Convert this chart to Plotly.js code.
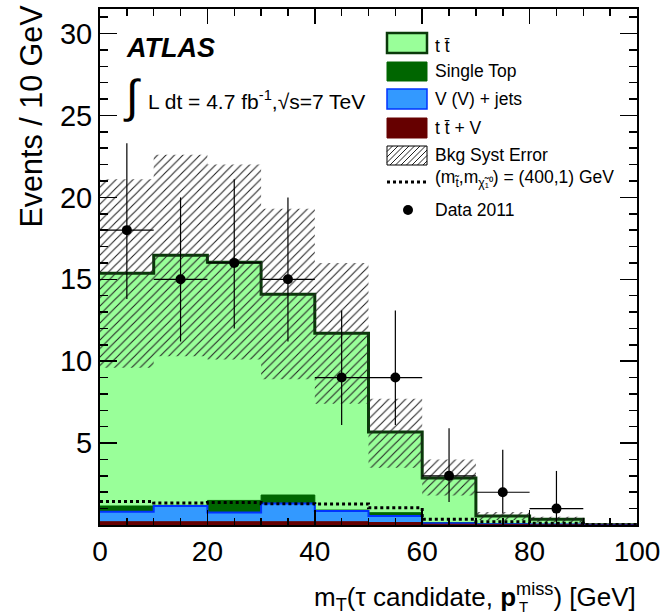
<!DOCTYPE html>
<html>
<head>
<meta charset="utf-8">
<script src="https://cdn.plot.ly/plotly-3.0.1.min.js"></script>
<style>html,body{margin:0;padding:0;background:#fff;}#chart{width:663px;height:616px;}</style>
</head>
<body>
<div id="chart"></div>
<script>
// ---- data ----
const binEdges = [0,10,20,30,40,50,60,70,80,90,100];
const ttbar     = [14.21,15.26,14.54,12.26,10.80,4.92,2.72,0.48,0.31,0.02];
const singleTop = [0.35,0.04,0.73,0.51,0.06,0.20,0.05,0.02,0.01,0.00];
const vjets     = [0.61,0.96,0.57,1.12,0.65,0.40,0.05,0.03,0.02,0.00];
const ttV       = [0.20,0.20,0.20,0.20,0.20,0.15,0.05,0.02,0.01,0.00];
const signal    = [1.44,1.34,1.38,1.30,1.28,1.05,0.35,0.20,0.10,0.03];
const systUp    = [21.1,22.6,22.0,19.3,16.0,7.7,4.0,0.8,0.5,0.03];
const systDown  = [9.6,10.3,10.1,8.9,7.4,3.5,1.8,0.3,0.15,0.01];
const dataX     = [5,15,25,35,45,55,65,75,85];
const dataY     = [18,15,16,15,9,9,3,2,1];
const dataErrUp   = [5.3,5.0,5.1,5.0,4.1,4.1,2.9,2.6,2.3];
const dataErrDown = [4.2,3.8,4.0,3.8,2.9,2.9,1.6,1.3,0.8];
const xTicks = [0,20,40,60,80,100];
const yTicks = [5,10,15,20,25,30];

// ---- helpers ----
function addArr(a,b){return a.map((v,i)=>v+b[i]);}
function stepY(v){return v.concat([v[v.length-1]]);}
const cTTV = ttV.slice();
const cV = addArr(cTTV, vjets);
const cST = addArr(cV, singleTop);
const cTT = addArr(cST, ttbar);

function stackTrace(vals, fill, lineColor, lw){
  return {type:'scatter', mode:'lines', x:binEdges, y:stepY(vals),
    line:{shape:'hv', color:lineColor, width:lw}, fill:'tozeroy', fillcolor:fill,
    hoverinfo:'skip', showlegend:false};
}
// hatched band polygon
const bx=[], by=[];
for(let i=0;i<systUp.length;i++){bx.push(binEdges[i],binEdges[i+1]);by.push(systUp[i],systUp[i]);}
for(let i=systDown.length-1;i>=0;i--){bx.push(binEdges[i+1],binEdges[i]);by.push(systDown[i],systDown[i]);}

const traces = [
  stackTrace(cTT, '#99ff99', '#0a3a0a', 3),
  stackTrace(cST, '#006600', '#006600', 1),
  stackTrace(cV, '#3399ff', '#0033ff', 2),
  stackTrace(cTTV, '#660000', '#660000', 1),
  {type:'scatter', mode:'lines', x:bx, y:by, fill:'toself', fillcolor:'rgba(0,0,0,0)',
   fillpattern:{shape:'/', size:6, solidity:0.18, fgcolor:'#222', bgcolor:'rgba(0,0,0,0)'},
   line:{width:0, color:'rgba(0,0,0,0)'}, hoverinfo:'skip', showlegend:false},
  {type:'scatter', mode:'lines', x:binEdges, y:stepY(signal),
   line:{shape:'hv', color:'#000', width:3, dash:'dot'}, showlegend:false},
  {type:'scatter', mode:'markers', x:dataX, y:dataY,
   marker:{color:'#000', size:10, symbol:'circle'},
   error_x:{type:'constant', value:5, width:0, thickness:1.2, color:'#000'},
   error_y:{type:'data', symmetric:false, array:dataErrUp, arrayminus:dataErrDown, width:0, thickness:1.2, color:'#000'},
   showlegend:false}
];

// pixel -> paper
const L=100, R=637, T=9, B=525;
function px(x){return (x-L)/(R-L);}
function py(y){return (B-y)/(B-T);}

const shapes=[];
function rect(x0,y0,x1,y1,fill,lc,lw){
  shapes.push({type:'rect',xref:'paper',yref:'paper',x0:px(x0),x1:px(x1),y0:py(y1),y1:py(y0),
    fillcolor:fill,line:{color:lc,width:lw},layer:'above'});
}
rect(387,33,427,53,'#99ff99','#0a3a0a',2.5);
rect(387,62,427,81,'#006600','#006600',1);
rect(387,89,427,109,'#3399ff','#0033ff',1.5);
rect(387,118,427,138,'#660000','#660000',1);
// hatch legend box
(function(){
  const x0=387,x1=427,y0=146,y1=165,h=y1-y0,w=x1-x0;
  for(let t=-h;t<w;t+=5.5){
    const sMin=Math.max(0,-t), sMax=Math.min(h,w-t);
    if(sMin<sMax){
      shapes.push({type:'line',xref:'paper',yref:'paper',
        x0:px(x0+t+sMin),y0:py(y1-sMin),x1:px(x0+t+sMax),y1:py(y1-sMax),
        line:{color:'#222',width:1},layer:'above'});
    }
  }
  rect(x0,y0,x1,y1,'rgba(0,0,0,0)','#000',1);
})();
shapes.push({type:'line',xref:'paper',yref:'paper',x0:px(387),x1:px(428),y0:py(182),y1:py(182),
  line:{color:'#000',width:3,dash:'dot'},layer:'above'});
shapes.push({type:'circle',xref:'paper',yref:'paper',x0:px(403),x1:px(413),y0:py(215),y1:py(205),
  fillcolor:'#000',line:{color:'#000',width:0},layer:'above'});

const F='Liberation Sans, Arial, Helvetica, sans-serif';
function ann(text,x,y,size,opts){
  return Object.assign({xref:'paper',yref:'paper',x:px(x),y:py(y),text:text,showarrow:false,
    xanchor:'left',yanchor:'middle',font:{family:F,size:size,color:'#000'}},opts||{});
}
const annotations=[
  ann('<b><i>ATLAS</i></b>',124,48,27),
  ann('\u222B',121,96,46),
  ann('L dt = 4.7 fb<sup>-1</sup>,\u221As=7 TeV',146,100,21),
  ann('t t\u0304',433,46,17.5),
  ann('Single Top',433,71,17.5),
  ann('V (V) + jets',433,99,17.5),
  ann('t t\u0304 + V',433,128,17.5),
  ann('Bkg Syst Error',433,155,17.5),
  ann('(m<sub>t\u0303</sub>,m<sub>\u03C7\u0303\u2081\u2070</sub>) = (400,1) GeV',433,178,17.5),
  ann('Data 2011',433,210,17.5),
  ann('Events / 10 GeV',31,3,30.5,{textangle:-90,xanchor:'center',yanchor:'top'}),
  ann('m<sub>T</sub>(\u03C4 candidate, <b>p</b><sup>miss</sup>) [GeV]',638,597,26,{xanchor:'right'}),
  ann('T',518,616,15,{yanchor:'bottom',borderpad:0})
];

const layout={
  width:663,height:616,margin:{l:L,r:663-R,t:T,b:616-B},
  paper_bgcolor:'#fff',plot_bgcolor:'#fff',showlegend:false,
  font:{family:F,color:'#000'},
  xaxis:{range:[0,100],tickmode:'array',tickvals:xTicks,ticks:'inside',ticklen:15,tickwidth:1.5,tickcolor:'#000',
    showline:true,linewidth:2,linecolor:'#000',mirror:'allticks',showgrid:false,zeroline:false,
    tickfont:{family:F,size:28,color:'#000'},
    minor:{tickmode:'linear',tick0:0,dtick:5,ticks:'inside',ticklen:7,tickwidth:1.5,tickcolor:'#000',showgrid:false}},
  yaxis:{range:[0,31.5],tickmode:'array',tickvals:yTicks,ticks:'inside',ticklen:17,tickwidth:1.5,tickcolor:'#000',
    showline:true,linewidth:2,linecolor:'#000',mirror:'allticks',showgrid:false,zeroline:false,
    tickfont:{family:F,size:29,color:'#000'},
    minor:{tickmode:'linear',tick0:0,dtick:1,ticks:'inside',ticklen:8,tickwidth:1.5,tickcolor:'#000',showgrid:false}},
  shapes:shapes,annotations:annotations
};
Plotly.newPlot('chart',traces,layout,{staticPlot:true});
</script>
</body>
</html>
